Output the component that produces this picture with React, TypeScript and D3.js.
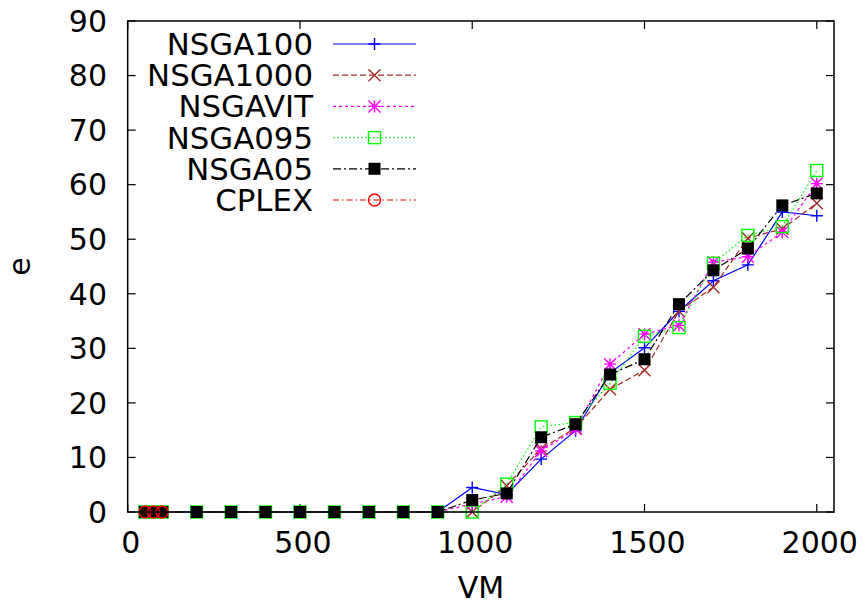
import React from "react";
import * as d3 from "d3";

const xs = [50, 75, 100, 200, 300, 400, 500, 600, 700, 800, 900, 1000, 1100, 1200, 1300, 1400, 1500, 1600, 1700, 1800, 1900, 2000];
const zeros11 = [0, 0, 0, 0, 0, 0, 0, 0, 0, 0, 0];
const nsga100 = [...zeros11, 4.5, 3.2, 9.7, 14.9, 25.5, 30.1, 36.8, 42.4, 45.3, 55.0, 54.3];
const nsga1000 = [...zeros11, 0, 4.8, 11.6, 15.4, 22.5, 26.0, 36.8, 41.2, 50.2, 51.9, 56.6];
const nsgavit = [...zeros11, 1.5, 2.8, 11.2, 15.2, 27.1, 32.6, 34.2, 45.8, 46.8, 51.3, 60.2];
const nsga095 = [...zeros11, 0, 5.1, 15.6, 16.4, 23.6, 32.2, 33.8, 45.6, 50.7, 52.3, 62.6];
const nsga05 = [...zeros11, 2.2, 3.4, 13.7, 16.1, 25.2, 28.0, 38.1, 44.3, 48.3, 56.2, 58.4];
const cplexX = [50, 75, 100];
const cplex = [0, 0, 0];

const seriesNames = ["NSGA100", "NSGA1000", "NSGAVIT", "NSGA095", "NSGA05", "CPLEX"];
const xTicks = [0, 500, 1000, 1500, 2000];
const yTicks = [0, 10, 20, 30, 40, 50, 60, 70, 80, 90];

type Style = { color: string; dash: string; marker: string };
const styles: Style[] = [
  { color: "#0000ff", dash: "", marker: "plus" },
  { color: "#a52a2a", dash: "6,3", marker: "cross" },
  { color: "#ff00ff", dash: "3,3", marker: "star" },
  { color: "#00ff00", dash: "1.5,2.5", marker: "square" },
  { color: "#000000", dash: "8,3,2,3", marker: "fsquare" },
  { color: "#ff0000", dash: "6,3,1.5,3", marker: "circle" },
];

const W = 864, H = 605;
const L = 127.7, R = 834, T = 21, B = 512;
const FONT = "'DejaVu Sans', sans-serif";
const FS = 30;
const LFS = 30.8;

function Marker({ kind, x, y, color }: { kind: string; x: number; y: number; color: string }) {
  const s = 6;
  const sw = 1.4;
  if (kind === "plus")
    return <path d={`M${x - s},${y}H${x + s}M${x},${y - s}V${y + s}`} stroke={color} strokeWidth={sw} fill="none" />;
  if (kind === "cross")
    return <path d={`M${x - s},${y - s}L${x + s},${y + s}M${x - s},${y + s}L${x + s},${y - s}`} stroke={color} strokeWidth={sw} fill="none" />;
  if (kind === "star")
    return <path d={`M${x - s},${y}H${x + s}M${x},${y - s}V${y + s}M${x - s},${y - s}L${x + s},${y + s}M${x - s},${y + s}L${x + s},${y - s}`} stroke={color} strokeWidth={sw} fill="none" />;
  if (kind === "square")
    return <rect x={x - s} y={y - s} width={2 * s} height={2 * s} stroke={color} strokeWidth={sw} fill="none" />;
  if (kind === "fsquare")
    return <rect x={x - s} y={y - s} width={2 * s} height={2 * s} fill={color} />;
  return <circle cx={x} cy={y} r={s} stroke={color} strokeWidth={sw} fill="none" />;
}

export default function App() {
  const x = d3.scaleLinear().domain([0, 2050]).range([L, R]);
  const y = d3.scaleLinear().domain([0, 90]).range([B, T]);
  const data: { xv: number[]; yv: number[] }[] = [
    { xv: xs, yv: nsga100 },
    { xv: xs, yv: nsga1000 },
    { xv: xs, yv: nsgavit },
    { xv: xs, yv: nsga095 },
    { xv: xs, yv: nsga05 },
    { xv: cplexX, yv: cplex },
  ];
  const line = d3
    .line<[number, number]>()
    .x((d) => x(d[0]))
    .y((d) => y(d[1]));
  const tickLen = 8;
  const legX0 = 333, legX1 = 416, legText = 313;
  return (
    <svg width={W} height={H} style={{ position: "absolute", left: 0, top: 0, background: "#fff" }} fontFamily={FONT}>
      <rect width={W} height={H} fill="#fff" />
      {yTicks.map((t) => (
        <g key={"y" + t}>
          <line x1={L} x2={L + tickLen} y1={y(t)} y2={y(t)} stroke="#000" strokeWidth={1.2} />
          <line x1={R} x2={R - tickLen} y1={y(t)} y2={y(t)} stroke="#000" strokeWidth={1.2} />
          <text x={107} y={y(t)} dy="0.36em" textAnchor="end" fontSize={FS} fill="#000">{t}</text>
        </g>
      ))}
      {xTicks.map((t) => (
        <g key={"x" + t}>
          <line x1={x(t)} x2={x(t)} y1={B} y2={B - tickLen} stroke="#000" strokeWidth={1.2} />
          <line x1={x(t)} x2={x(t)} y1={T} y2={T + tickLen} stroke="#000" strokeWidth={1.2} />
          <text x={x(t) + 3} y={553} textAnchor="middle" fontSize={FS} fill="#000">{t}</text>
        </g>
      ))}
      <text x={(L + R) / 2} y={598} textAnchor="middle" fontSize={FS} fill="#000">VM</text>
      <text transform={`translate(30,${(T + B) / 2}) rotate(-90)`} textAnchor="middle" fontSize={FS} fill="#000">e</text>
      {data.map((s, i) => {
        const pts: [number, number][] = s.xv.map((v, j) => [v, s.yv[j]]);
        const st = styles[i];
        return (
          <g key={"s" + i}>
            <path d={line(pts) || ""} fill="none" stroke={st.color} strokeWidth={1.2} strokeDasharray={st.dash} />
            {pts.map((p, j) => (
              <Marker key={j} kind={st.marker} x={x(p[0])} y={y(p[1])} color={st.color} />
            ))}
          </g>
        );
      })}
      {seriesNames.map((n, i) => {
        const ly = 44 + i * 31.2;
        const st = styles[i];
        return (
          <g key={"l" + i}>
            <text x={legText} y={ly} dy="0.36em" textAnchor="end" fontSize={LFS} fill="#000">{n}</text>
            <line x1={legX0} x2={legX1} y1={ly} y2={ly} stroke={st.color} strokeWidth={1.2} strokeDasharray={st.dash} />
            <Marker kind={st.marker} x={(legX0 + legX1) / 2} y={ly} color={st.color} />
          </g>
        );
      })}
      <rect x={L} y={T} width={R - L} height={B - T} fill="none" stroke="#000" strokeWidth={1.5} />
    </svg>
  );
}
